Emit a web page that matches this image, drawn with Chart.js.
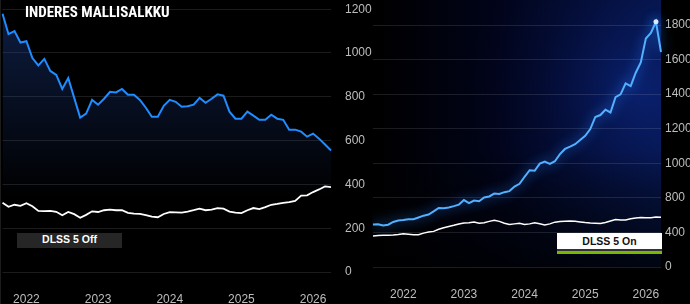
<!DOCTYPE html>
<html>
<head>
<meta charset="utf-8">
<script src="https://cdn.jsdelivr.net/npm/chart.js@4.4.1/dist/chart.umd.min.js"></script>
<style>
  html, body { margin: 0; padding: 0; background: #000; }
  #wrap { position: relative; width: 690px; height: 304px; overflow: hidden; background: #000; }
  #leftBox { position: absolute; left: 0; top: 0; width: 372px; height: 304px; border-left: 1px solid #1c1c1c; box-sizing: border-box; }
  #rightBox { position: absolute; left: 372px; top: 0; width: 318px; height: 304px; }
  .title { position: absolute; left: 25px; top: 3px; color: #fff; font: bold 15px "Liberation Sans Narrow", "Roboto Condensed", "DejaVu Sans Condensed", sans-serif; white-space: nowrap; }
  .tag { position: absolute; height: 15px; width: 105px; text-align: center; line-height: 15px; font: bold 10.5px "Liberation Sans", Arial, sans-serif; white-space: nowrap; }
  .off { left: 17px; top: 233px; background: #262626; color: #fff; }
  .on { left: 557px; top: 233px; height: 16px; line-height: 16px; background: #fff; color: #111; }
  .green { position: absolute; left: 557px; top: 249px; width: 105px; height: 1.5px; background: #333; border-bottom: 3px solid #76b900; }
</style>
</head>
<body>
<div id="wrap">
  <div id="leftBox"><canvas id="offChart"></canvas></div>
  <div id="rightBox"><canvas id="onChart"></canvas></div>
  <div class="title">INDERES MALLISALKKU</div>
  <div class="tag off">DLSS 5 Off</div>
  <div class="tag on">DLSS 5 On</div>
  <div class="green"></div>
</div>
<script>
// month labels, "YYYY-MM"
function monthLabels(year, month, count) {
  const out = [];
  for (let i = 0; i < count; i++) {
    const m = (month - 1 + i) % 12 + 1;
    const y = year + Math.floor((month - 1 + i) / 12);
    out.push(y + '-' + String(m).padStart(2, '0'));
  }
  return out;
}

// left panel: Sep 2021 .. Apr 2026
const offMonths = monthLabels(2021, 9, 56);
const offBlue = [1179,1086,1100,1048,1054,977,943,973,918,900,
  836,886,795,705,723,786,764,791,823,820,
  836,809,809,786,750,709,709,759,786,777,
  755,757,764,795,773,791,811,805,732,700,
  700,732,714,695,695,718,700,695,650,650,
  641,618,632,609,582,555];
const offWhite = [316,298,307,302,314,300,279,278,279,275,
  259,274,264,248,261,277,274,282,285,282,
  282,270,267,265,260,253,250,265,273,272,
  271,276,282,289,282,285,292,289,276,271,
  269,282,292,287,296,307,311,316,319,325,
  349,350,365,377,391,388];

// right panel: Jul 2021 .. Apr 2026
const onMonths = monthLabels(2021, 7, 58);
const onBlue = [491,495,481,489,521,538,544,553,553,573,
  594,607,643,683,679,689,704,722,774,738,
  768,761,802,808,825,822,833,839,865,881,
  922,960,957,998,1010,997,1012,1053,1083,1096,
  1110,1135,1159,1198,1268,1279,1310,1294,1383,1399,
  1462,1447,1524,1584,1722,1754,1819,1644];
const onWhite = [359,364,366,368,371,376,385,379,372,374,
  392,404,412,436,454,468,482,498,509,513,
  520,506,513,528,542,528,507,492,499,505,
  493,499,513,500,485,499,519,527,529,532,
  528,521,514,509,506,504,514,532,549,543,
  544,557,566,573,571,571,579,577];
// the right axis has evenly spaced but uneven labels
const onTickLabels = ['0','400','800','1000','1200','1400','1600','1800'];

// map a right-axis value onto the evenly spaced grid
function toAxis(v) { return v <= 800 ? v / 2 : v - 400; }

const tickFont = { family: 'Liberation Sans', size: 12 };
const tickColor = '#bdbdbd';
const gridColor = 'rgba(255,255,255,0.11)';

function yearOnly(value) {
  const lab = this.getLabelForValue(value);
  return lab.endsWith('-01') ? lab.slice(0, 4) : null;
}

new Chart(document.getElementById('offChart'), {
  type: 'line',
  data: {
    labels: offMonths,
    datasets: [{
      data: offBlue,
      borderColor: '#1f8cff',
      borderWidth: 2,
      pointRadius: 0,
      fill: 'origin',
      backgroundColor: (ctx) => {
        const a = ctx.chart.chartArea;
        if (!a) return 'transparent';
        const g = ctx.chart.ctx.createLinearGradient(0, a.top, 0, a.top + 190);
        g.addColorStop(0, 'rgba(35,75,170,0.38)');
        g.addColorStop(1, 'rgba(35,75,170,0)');
        return g;
      }
    }, {
      data: offWhite,
      borderColor: '#ffffff',
      borderWidth: 1.8,
      pointRadius: 0,
      fill: false
    }]
  },
  options: {
    responsive: true,
    maintainAspectRatio: false,
    animation: false,
    layout: { padding: { left: 1, top: 8, right: 0, bottom: 0 } },
    plugins: { legend: { display: false }, tooltip: { enabled: false } },
    scales: {
      x: {
        grid: { display: false },
        border: { display: false },
        ticks: { autoSkip: false, maxRotation: 0, padding: 12, color: tickColor, font: tickFont, callback: yearOnly },
        afterFit: (s) => { s.height = 32; }
      },
      y: {
        position: 'right',
        min: 0,
        max: 1200,
        ticks: { stepSize: 200, padding: 2, color: tickColor, font: tickFont, callback: (v) => String(v) },
        grid: { color: gridColor, drawTicks: true, tickLength: 12, tickColor: 'transparent' },
        border: { display: false },
        afterFit: (s) => { s.width = 41; }
      }
    }
  }
});

const glowBg = {
  id: 'glowBg',
  beforeDraw(chart) {
    const { ctx, chartArea: a } = chart;
    ctx.save();
    const base = ctx.createLinearGradient(a.left, 0, a.right, 0);
    base.addColorStop(0, '#000000');
    base.addColorStop(0.45, '#01041a');
    base.addColorStop(1, '#051445');
    ctx.fillStyle = base;
    ctx.fillRect(a.left, 0, a.right - a.left, a.bottom);
    const r = ctx.createRadialGradient(a.right - 25, 90, 0, a.right - 25, 90, 170);
    r.addColorStop(0, 'rgba(25,70,230,0.28)');
    r.addColorStop(0.6, 'rgba(15,40,170,0.08)');
    r.addColorStop(1, 'rgba(10,30,120,0)');
    ctx.fillStyle = r;
    ctx.fillRect(a.left, 0, a.right - a.left, a.bottom);
    // darken toward the bottom of the panel
    const v = ctx.createLinearGradient(0, 150, 0, a.bottom);
    v.addColorStop(0, 'rgba(0,0,0,0)');
    v.addColorStop(1, 'rgba(0,0,0,0.75)');
    ctx.fillStyle = v;
    ctx.fillRect(a.left, 150, a.right - a.left, a.bottom - 150);
    ctx.restore();
  },
  beforeDatasetDraw(chart, args) {
    if (args.index !== 0) return;
    chart.ctx.save();
    chart.ctx.shadowColor = 'rgba(40,130,255,1)';
    chart.ctx.shadowBlur = 12;
  },
  afterDatasetDraw(chart, args) {
    if (args.index !== 0) return;
    chart.ctx.restore();
  }
};

new Chart(document.getElementById('onChart'), {
  type: 'line',
  data: {
    labels: onMonths,
    datasets: [{
      data: onBlue.map(toAxis),
      borderColor: '#52b0ff',
      borderWidth: 2,
      pointRadius: (ctx) => ctx.dataIndex === 56 ? 2.5 : 0,
      pointBackgroundColor: '#d8ecff',
      pointBorderWidth: 0,
      clip: false,
      fill: false
    }, {
      data: onWhite.map(toAxis),
      borderColor: '#ffffff',
      borderWidth: 1.5,
      pointRadius: 0,
      fill: false
    }]
  },
  options: {
    responsive: true,
    maintainAspectRatio: false,
    animation: false,
    layout: { padding: { left: 1, top: 25, right: 0, bottom: 0 } },
    plugins: { legend: { display: false }, tooltip: { enabled: false } },
    scales: {
      x: {
        grid: { display: false },
        border: { display: false },
        ticks: { autoSkip: false, maxRotation: 0, padding: 12, color: tickColor, font: tickFont, callback: yearOnly },
        afterFit: (s) => { s.height = 37; }
      },
      y: {
        position: 'right',
        min: 0,
        max: 1400,
        ticks: { stepSize: 200, padding: 4, color: tickColor, font: tickFont, callback: (v) => onTickLabels[Math.round(v / 200)] },
        grid: { color: gridColor, drawTicks: false },
        border: { display: false },
        afterFit: (s) => { s.width = 29; }
      }
    }
  },
  plugins: [glowBg]
});
</script>
</body>
</html>
